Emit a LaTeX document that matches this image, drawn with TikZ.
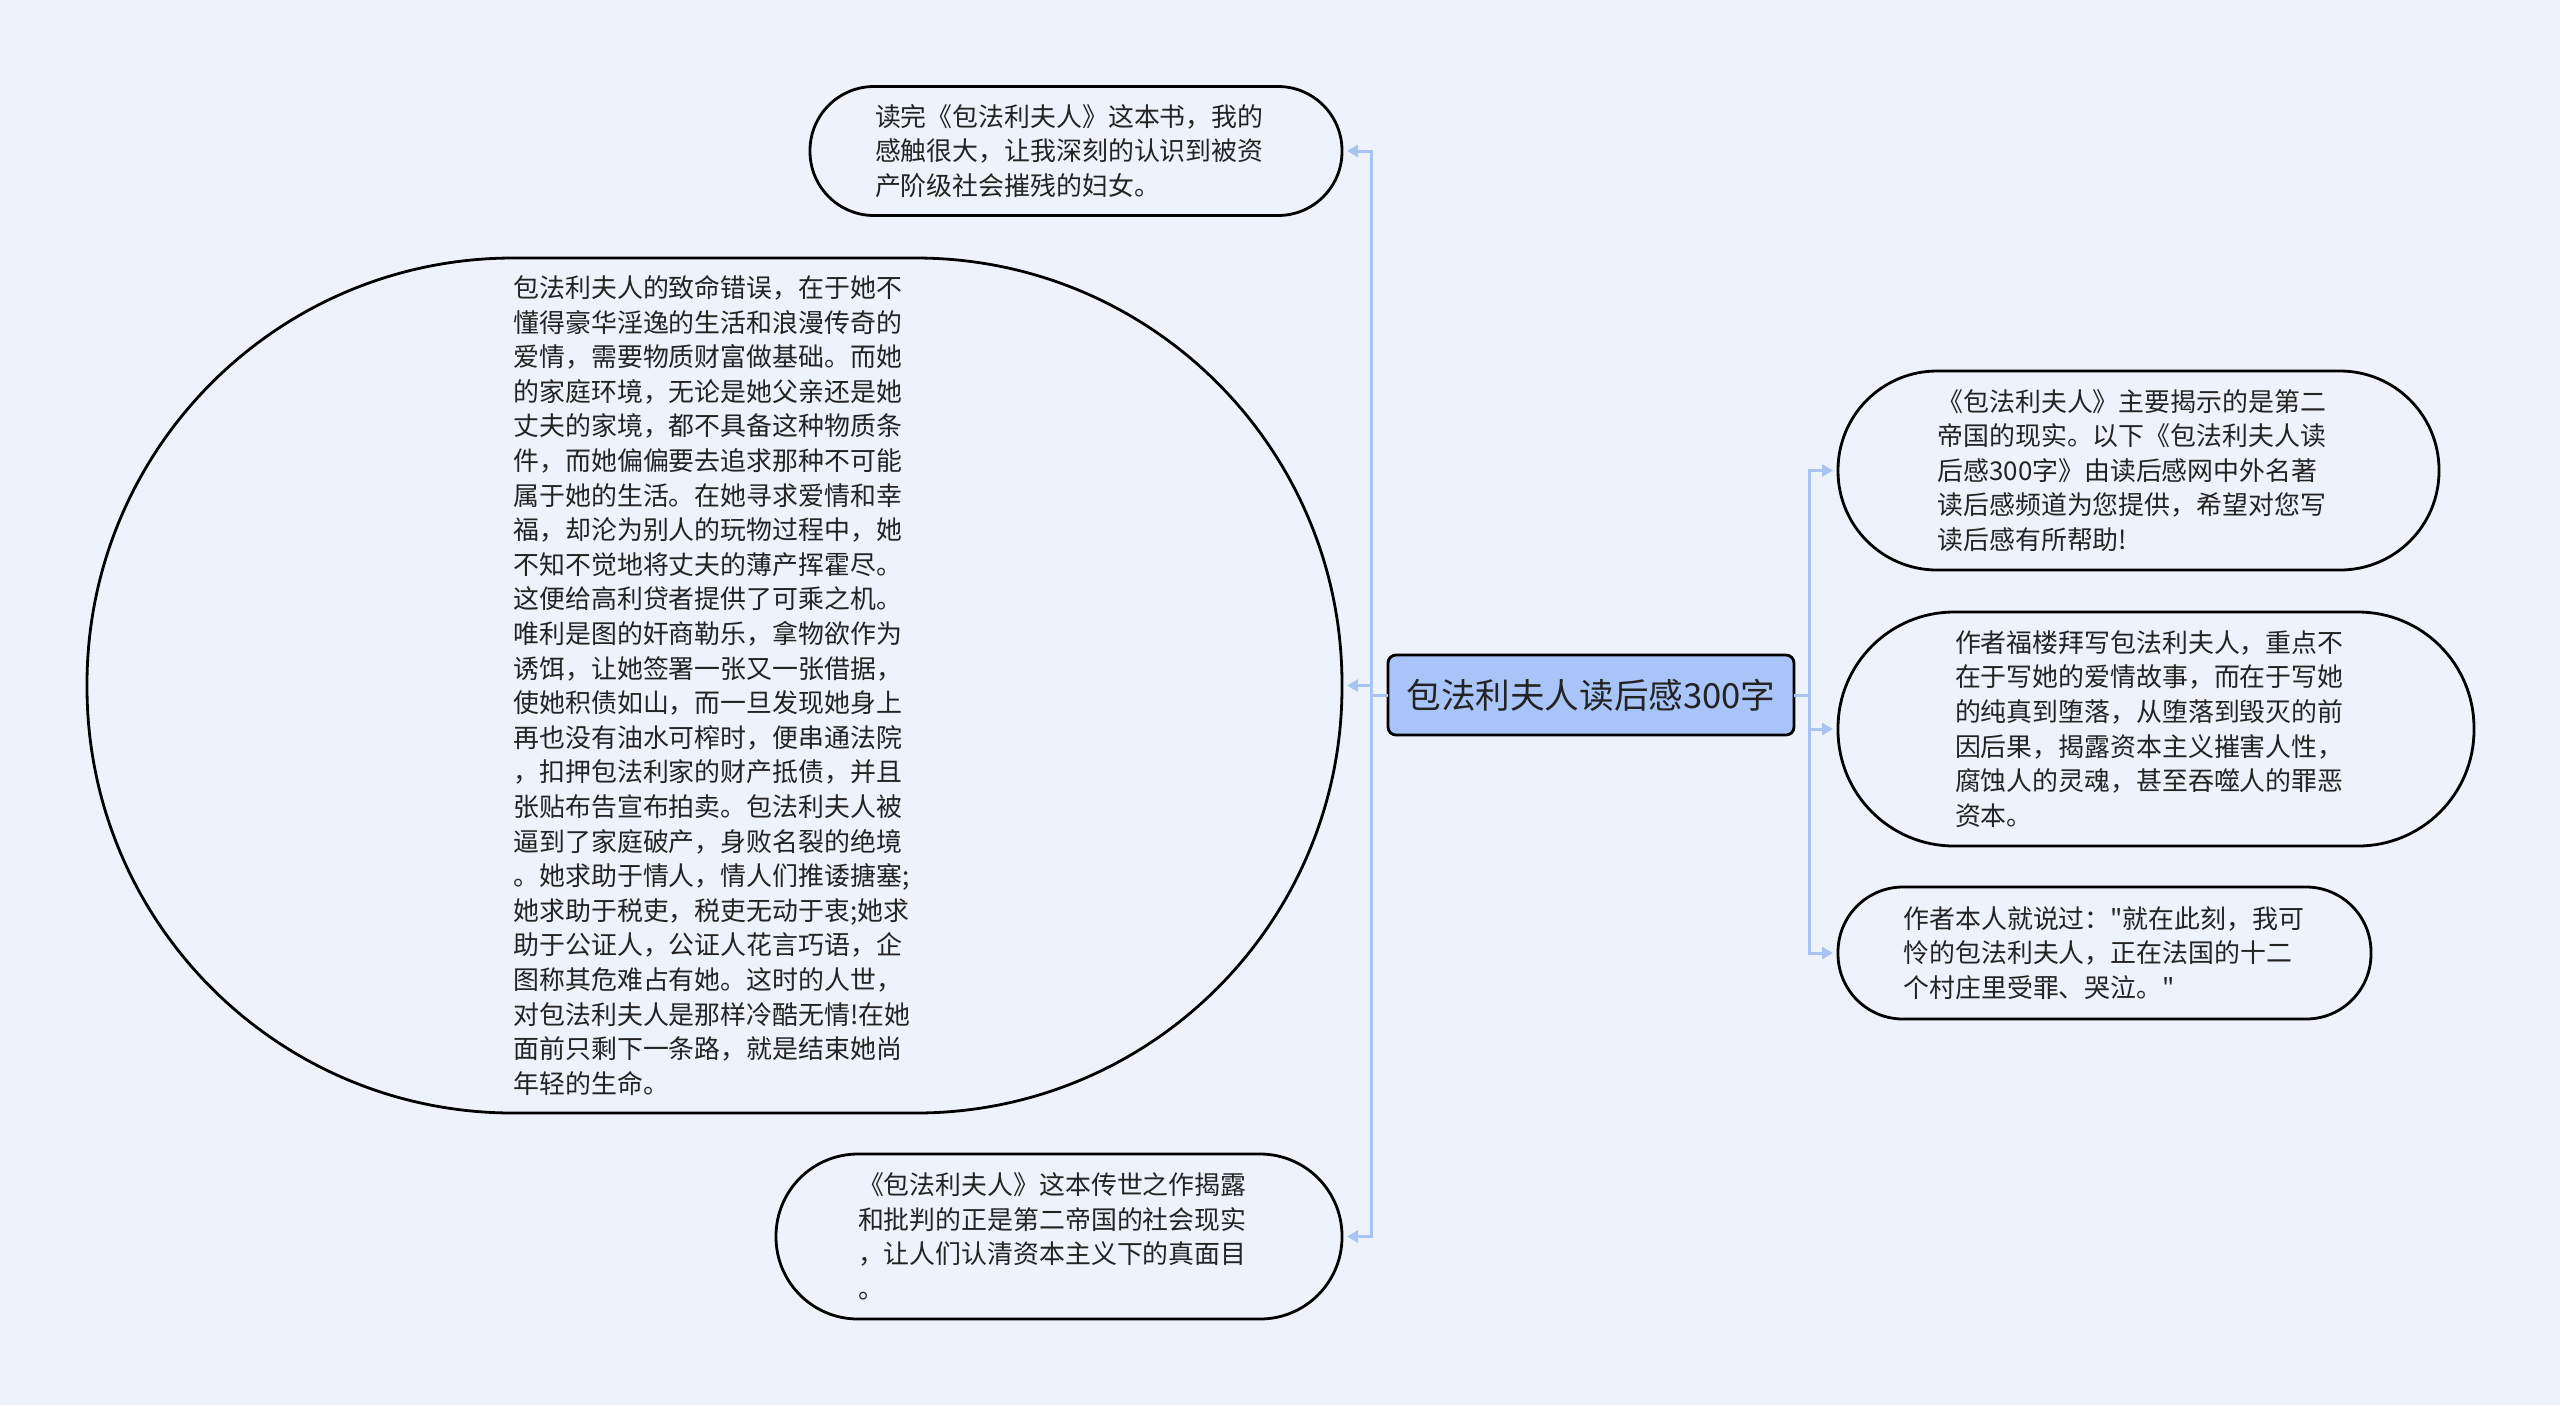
\documentclass[tikz,border=0pt]{standalone}
\usepackage{fontspec}
\newfontfamily\cjk{Noto Sans CJK SC}
\usetikzlibrary{arrows.meta}
\definecolor{bgc}{RGB}{238,243,251}
\definecolor{hubfill}{RGB}{169,196,248}
\definecolor{linkc}{RGB}{168,196,240}
\definecolor{txtc}{RGB}{35,35,35}
\tikzset{
  leaf/.style={draw=black, line width=1.4pt, rounded corners=#1, align=left,
    text width=201pt, inner sep=0pt, outer sep=0pt, text=txtc,
    font=\cjk\fontsize{12.95pt}{17.3pt}\selectfont},
  hub/.style={draw=black, line width=1.4pt, rounded corners=4pt, fill=hubfill,
    inner sep=0pt, outer sep=0pt, text=txtc,
    minimum width=203pt, minimum height=40pt,
    font=\cjk\fontsize{17.3pt}{21pt}\selectfont},
  link/.style={draw=linkc, line width=1.5pt},
  linkarrow/.style={link, -{Triangle[length=5.5pt,width=6pt]}, shorten >=2.5pt},
}
\begin{document}
\begin{tikzpicture}[x=0.5pt,y=-0.5pt]
\fill[bgc] (0,0) rectangle (2560,1405);
\useasboundingbox (0,0) rectangle (2560,1405);

\node[hub] (c) at (1591,695) {包法利夫人读后感300字};

\node[leaf=32pt, minimum width=266pt, minimum height=64.5pt] (n1) at (1076,151) {%
读完《包法利夫人》这本书，我的\\%
感触很大，让我深刻的认识到被资\\%
产阶级社会摧残的妇女。};

\node[leaf=213pt, minimum width=627.5pt, minimum height=427.5pt] (n2) at (714.5,685.5) {%
包法利夫人的致命错误，在于她不\\%
懂得豪华淫逸的生活和浪漫传奇的\\%
爱情，需要物质财富做基础。而她\\%
的家庭环境，无论是她父亲还是她\\%
丈夫的家境，都不具备这种物质条\\%
件，而她偏偏要去追求那种不可能\\%
属于她的生活。在她寻求爱情和幸\\%
福，却沦为别人的玩物过程中，她\\%
不知不觉地将丈夫的薄产挥霍尽。\\%
这便给高利贷者提供了可乘之机。\\%
唯利是图的奸商勒乐，拿物欲作为\\%
诱饵，让她签署一张又一张借据，\\%
使她积债如山，而一旦发现她身上\\%
再也没有油水可榨时，便串通法院\\%
，扣押包法利家的财产抵债，并且\\%
张贴布告宣布拍卖。包法利夫人被\\%
逼到了家庭破产，身败名裂的绝境\\%
。她求助于情人，情人们推诿搪塞;\\%
她求助于税吏，税吏无动于衷;她求\\%
助于公证人，公证人花言巧语，企\\%
图称其危难占有她。这时的人世，\\%
对包法利夫人是那样冷酷无情!在她\\%
面前只剩下一条路，就是结束她尚\\%
年轻的生命。};

\node[leaf=41pt, minimum width=283pt, minimum height=82.5pt] (n3) at (1059,1236.5) {%
《包法利夫人》这本传世之作揭露\\%
和批判的正是第二帝国的社会现实\\%
，让人们认清资本主义下的真面目\\%
。};

\node[leaf=49.5pt, minimum width=300.5pt, minimum height=99.5pt] (r1) at (2138.5,470.5) {%
《包法利夫人》主要揭示的是第二\\%
帝国的现实。以下《包法利夫人读\\%
后感300字》由读后感网中外名著\\%
读后感频道为您提供，希望对您写\\%
读后感有所帮助!};

\node[leaf=58pt, minimum width=318pt, minimum height=117pt] (r2) at (2156,729) {%
作者福楼拜写包法利夫人，重点不\\%
在于写她的爱情故事，而在于写她\\%
的纯真到堕落，从堕落到毁灭的前\\%
因后果，揭露资本主义摧害人性，\\%
腐蚀人的灵魂，甚至吞噬人的罪恶\\%
资本。};

\node[leaf=32.5pt, minimum width=266.5pt, minimum height=66pt] (r3) at (2104.5,953) {%
作者本人就说过："就在此刻，我可\\%
怜的包法利夫人，正在法国的十二\\%
个村庄里受罪、哭泣。"};

\coordinate (tl) at (1371,695);
\coordinate (tr) at (1809,695);

\draw[link] (c.west) -- (tl);
\draw[linkarrow] (tl) |- (n1.east);
\draw[linkarrow] (tl) |- (n2.east);
\draw[linkarrow] (tl) |- (n3.east);

\draw[link] (c.east) -- (tr);
\draw[linkarrow] (tr) |- (r1.west);
\draw[linkarrow] (tr) |- (r2.west);
\draw[linkarrow] (tr) |- (r3.west);
\end{tikzpicture}
\end{document}
